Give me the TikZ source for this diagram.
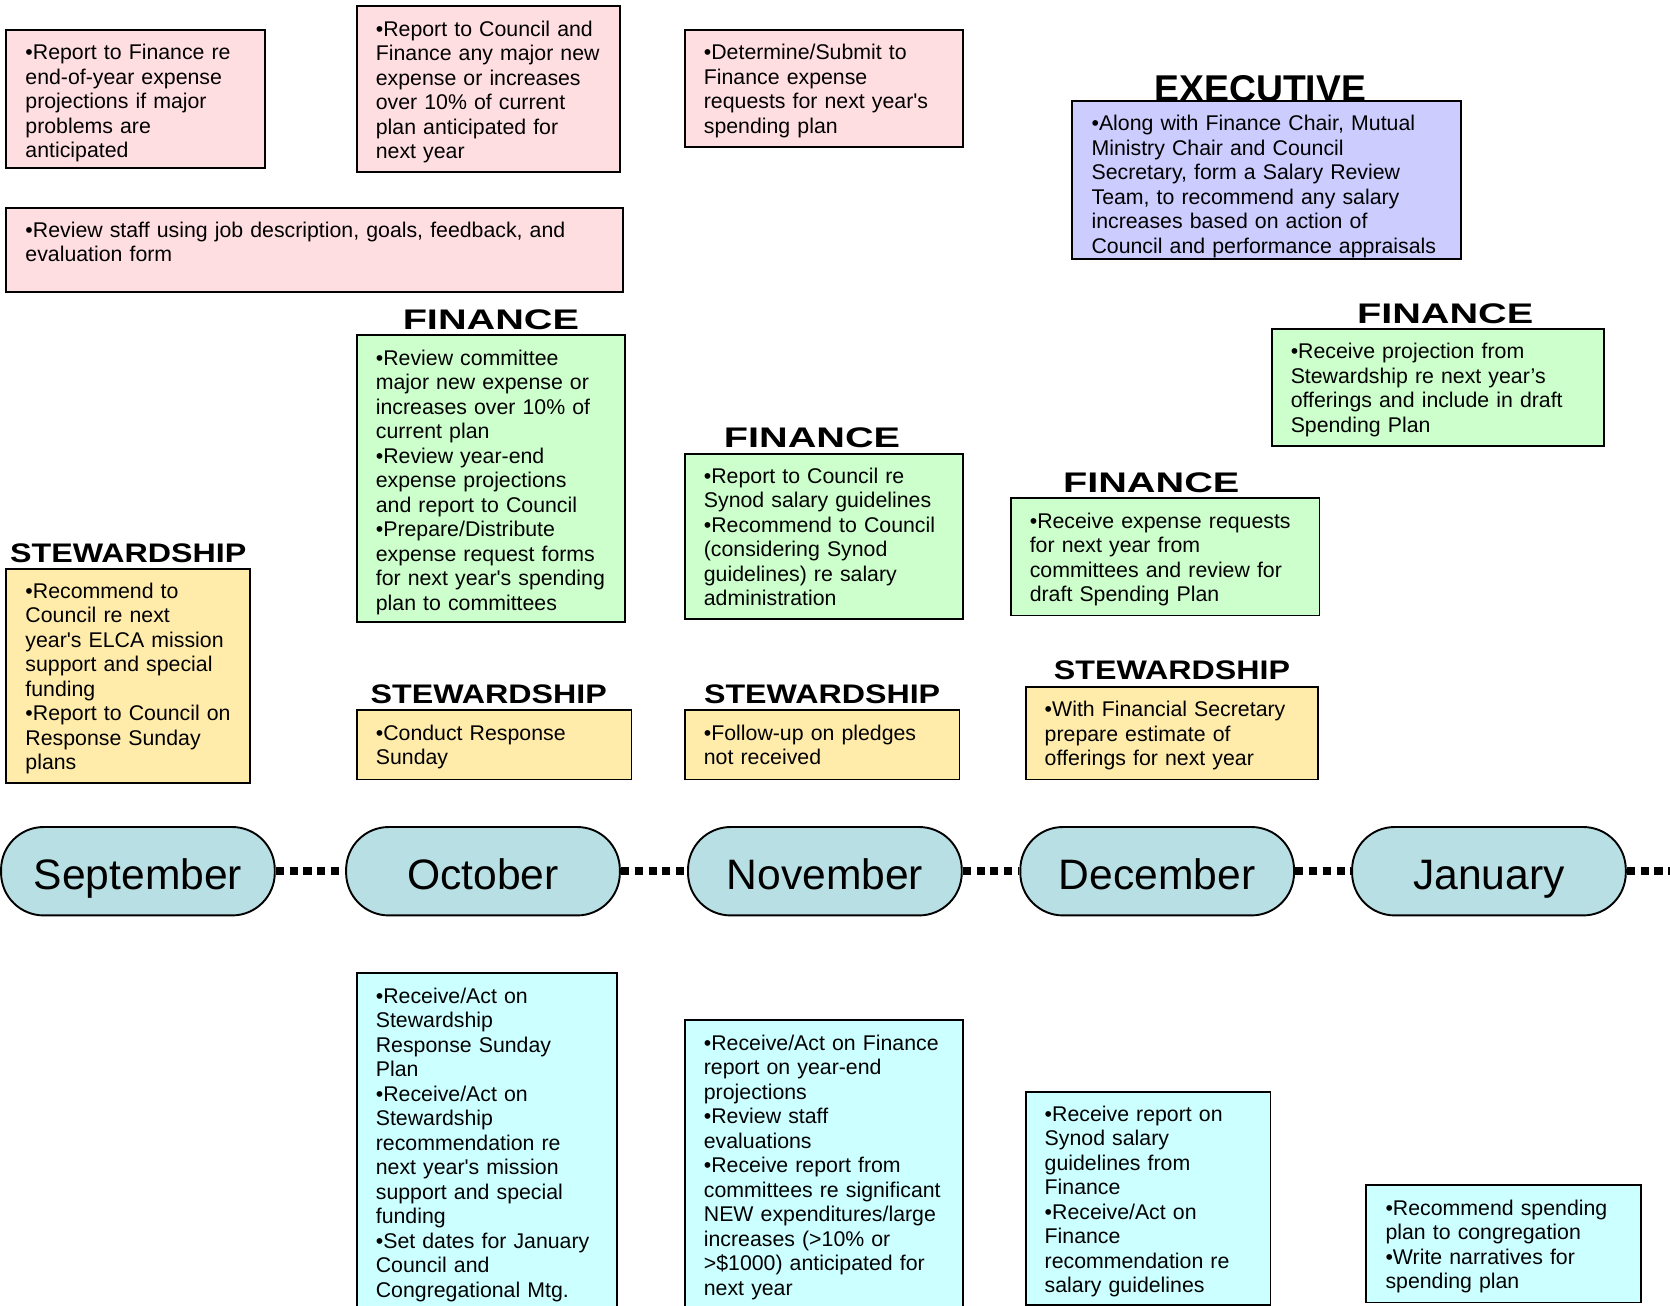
\documentclass[tikz,border=0pt]{standalone}
\usepackage{fontspec}
\setmainfont{Liberation Sans}
\newfontfamily\finfont[FakeStretch=1.4]{Liberation Sans}
\newfontfamily\stewfont[FakeStretch=1.2]{Liberation Sans}
\usetikzlibrary{positioning}
\definecolor{comfill}{RGB}{255, 222, 226}
\definecolor{execfill}{RGB}{204, 204, 255}
\definecolor{finfill}{RGB}{204, 255, 204}
\definecolor{stewfill}{RGB}{255, 236, 170}
\definecolor{counfill}{RGB}{204, 255, 255}
\definecolor{monthfill}{RGB}{184, 224, 228}
\tikzset{
  card/.style={draw, line width=0.9pt, anchor=north west, align=left,
    inner xsep=9pt, inner ysep=6pt, text height=8pt,
    font=\fontsize{10}{11.5}\selectfont},
  month/.style={draw, line width=0.9pt, fill=monthfill, rounded corners=20pt,
    minimum width=128.5pt, minimum height=41.5pt, text height=21pt, text depth=4pt,
    font=\fontsize{20}{24}\selectfont},
  finhead/.style={inner sep=0pt, font=\finfont\bfseries\fontsize{13.3}{14}\selectfont},
  stewhead/.style={inner sep=0pt, font=\stewfont\bfseries\fontsize{12.6}{14}\selectfont},
  dotline/.style={line width=3.5pt, dash pattern=on 3.8pt off 2.7pt}
}

\begin{document}
\begin{tikzpicture}[x=0.5pt, y=-0.5pt]
  \useasboundingbox (0,0) rectangle (1568,1226);

  % Committees
  \node[card, fill=comfill, text width=103.5pt, text depth=45pt] (comyearend) at (5,27)
    {•Report to Finance re\\end-of-year expense\\projections if major\\problems are\\anticipated};
  \node[card, fill=comfill, text width=105.5pt, text depth=58pt] (comincrease) at (334,5)
    {•Report to Council and\\Finance any major new\\expense or increases\\over 10\% of current\\plan anticipated for\\next year};
  \node[card, fill=comfill, text width=112.5pt, text depth=35pt] (comrequest) at (642,27)
    {•Determine/Submit to\\Finance expense\\requests for next year\textquotesingle s\\spending plan};
  \node[card, fill=comfill, text width=271.5pt, text depth=19.5pt] (comreview) at (5,194)
    {•Review staff using job description, goals, feedback, and\\evaluation form};

  % Executive
  \node[card, fill=execfill, text width=164.5pt, text depth=54pt] (execteam) at (1006,94)
    {•Along with Finance Chair, Mutual\\Ministry Chair and Council\\Secretary, form a Salary Review\\Team, to recommend any salary\\increases based on action of\\Council and performance appraisals};
  \node[inner sep=0pt, font=\bfseries\fontsize{17.5}{20}\selectfont, above=-1pt of execteam, xshift=-3pt] (exechead) {EXECUTIVE};

  % Finance
  \node[card, fill=finfill, text width=108pt, text depth=114.5pt] (finreview) at (334,314)
    {•Review committee\\major new expense or\\increases over 10\% of\\current plan\\•Review year-end\\expense projections\\and report to Council\\•Prepare/Distribute\\expense request forms\\for next year\textquotesingle s spending\\plan to committees};
  \node[finhead, above=2pt of finreview] (finhead1) {FINANCE};
  \node[card, fill=finfill, text width=112.5pt, text depth=57.5pt] (finsalary) at (642,425)
    {•Report to Council re\\Synod salary guidelines\\•Recommend to Council\\(considering Synod\\guidelines) re salary\\administration};
  \node[finhead, above=2pt of finsalary, xshift=-5.5pt] (finhead2) {FINANCE};
  \node[card, fill=finfill, text width=127pt, text depth=35pt] (finrequests) at (948,467)
    {•Receive expense requests\\for next year from\\committees and review for\\draft Spending Plan};
  \node[finhead, above=2pt of finrequests, xshift=-6.5pt] (finhead3) {FINANCE};
  \node[card, fill=finfill, text width=138pt, text depth=35pt] (finprojection) at (1193,308)
    {•Receive projection from\\Stewardship re next year’s\\offerings and include in draft\\Spending Plan};
  \node[finhead, above=2pt of finprojection, xshift=3.5pt] (finhead4) {FINANCE};

  % Stewardship
  \node[card, fill=stewfill, text width=96.5pt, text depth=80.5pt] (stewmission) at (5,533)
    {•Recommend to\\Council re next\\year\textquotesingle s ELCA mission\\support and special\\funding\\•Report to Council on\\Response Sunday\\plans};
  \node[stewhead, above=2pt of stewmission] (stewhead1) {STEWARDSHIP};
  \node[card, fill=stewfill, text width=111pt, text depth=12.5pt] (stewsunday) at (334,666)
    {•Conduct Response\\Sunday};
  \node[stewhead, above=2.5pt of stewsunday, xshift=-2.5pt] (stewhead2) {STEWARDSHIP};
  \node[card, fill=stewfill, text width=111pt, text depth=12.5pt] (stewpledges) at (642,666)
    {•Follow-up on pledges\\not received};
  \node[stewhead, above=2.5pt of stewpledges] (stewhead3) {STEWARDSHIP};
  \node[card, fill=stewfill, text width=119.5pt, text depth=23.5pt] (stewestimate) at (962,644)
    {•With Financial Secretary\\prepare estimate of\\offerings for next year};
  \node[stewhead, above=2.5pt of stewestimate] (stewhead4) {STEWARDSHIP};

  % Months
  \node[month] (sep) at (129.5,818) {September};
  \node[month] (oct) at (453.5,818) {October};
  \node[month] (nov) at (774.5,818) {November};
  \node[month] (dec) at (1086.5,818) {December};
  \node[month] (jan) at (1398,818) {January};
  \coordinate (edge) at (1568,818);
  \draw[dotline] (sep) -- (oct);
  \draw[dotline] (oct) -- (nov);
  \draw[dotline] (nov) -- (dec);
  \draw[dotline] (dec) -- (jan);
  \draw[dotline] (jan) -- (edge);

  % Council
  \node[card, fill=counfill, text width=104pt, text depth=145pt] (counoct) at (334,913)
    {•Receive/Act on\\Stewardship\\Response Sunday\\Plan\\•Receive/Act on\\Stewardship\\recommendation re\\next year\textquotesingle s mission\\support and special\\funding\\•Set dates for January\\Council and\\Congregational Mtg.};
  \node[card, fill=counfill, text width=112.5pt, text depth=125pt] (counnov) at (642,957)
    {•Receive/Act on Finance\\report on year-end\\projections\\•Review staff\\evaluations\\•Receive report from\\committees re significant\\NEW expenditures/large\\increases (>10\% or\\>\$1000) anticipated for\\next year};
  \node[card, fill=counfill, text width=97pt, text depth=80pt] (coundec) at (962,1024)
    {•Receive report on\\Synod salary\\guidelines from\\Finance\\•Receive/Act on\\Finance\\recommendation re\\salary guidelines};
  \node[card, fill=counfill, text width=111pt, text depth=35pt] (counjan) at (1282,1112)
    {•Recommend spending\\plan to congregation\\•Write narratives for\\spending plan};
\end{tikzpicture}
\end{document}
